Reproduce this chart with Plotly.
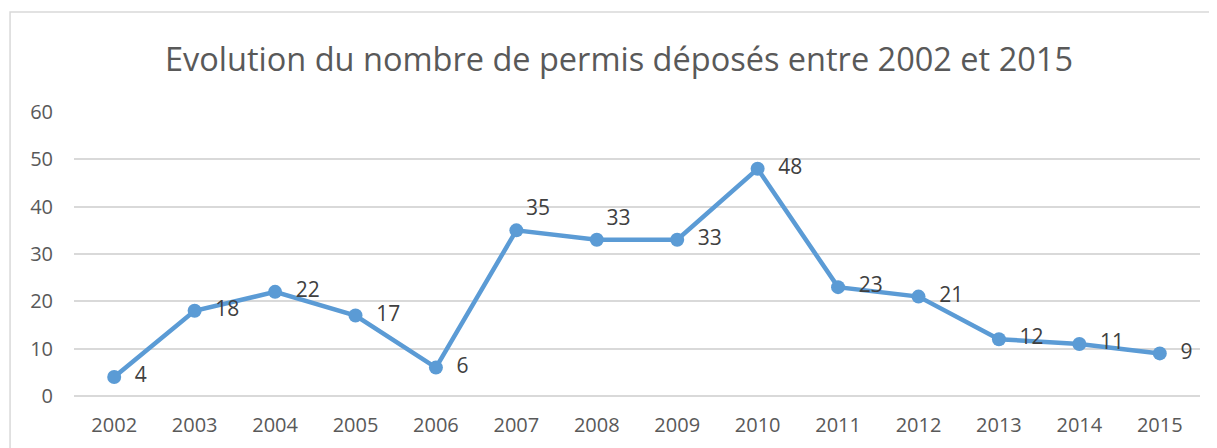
import plotly.graph_objects as go

years = ["2002", "2003", "2004", "2005", "2006", "2007", "2008", "2009",
         "2010", "2011", "2012", "2013", "2014", "2015"]
permis = [4, 18, 22, 17, 6, 35, 33, 33, 48, 23, 21, 12, 11, 9]
label_pos = ["middle right"] * 5 + ["top right", "top right"] + ["middle right"] * 7

font_family = "Open Sans, Lato, sans-serif"
pad = "\u00a0\u00a0"
labels = [(pad if p == "middle right" else "") + str(v) for v, p in zip(permis, label_pos)]

fig = go.Figure()
fig.add_trace(go.Scatter(
    x=years, y=permis,
    mode="lines+markers+text",
    line=dict(color="#5B9BD5", width=4.5),
    marker=dict(color="#5B9BD5", size=14),
    text=labels,
    textposition=label_pos,
    textfont=dict(family=font_family, size=21, color="#404040"),
    cliponaxis=False,
    hoverinfo="x+y",
))

W, H = 1209, 440  # page body has an 8px margin
fig.update_layout(
    width=W, height=H,
    margin=dict(l=66, r=17, t=104, b=52, autoexpand=False),
    paper_bgcolor="white", plot_bgcolor="white",
    showlegend=False,
    title=dict(
        text="Evolution du nombre de permis déposés entre 2002 et 2015",
        x=(619 - 8) / W, xref="container", xanchor="center",
        y=1 - 52 / H, yref="container", yanchor="middle",
        font=dict(family=font_family, size=32.5, color="#595959"),
    ),
    xaxis=dict(
        type="category", range=[-0.5, 13.5], automargin=False,
        showgrid=False, showline=False, zeroline=False, ticks="",
        tickfont=dict(family=font_family, size=20, color="#595959"),
        ticklabelstandoff=15,
    ),
    yaxis=dict(
        range=[0, 60], dtick=10, tick0=0, automargin=False,
        showgrid=True, gridcolor="#D9D9D9", gridwidth=1.5,
        zeroline=True, zerolinecolor="#D9D9D9", zerolinewidth=1.5,
        showline=False, ticks="",
        tickfont=dict(family=font_family, size=20, color="#595959"),
        ticklabelstandoff=20,
    ),
    shapes=[dict(
        type="path", xref="paper", yref="paper",
        path="M -0.0568 -0.3 L -0.0568 1.352 L 1.03 1.352",
        line=dict(color="#D9D9D9", width=1.5),
    )],
)

fig.write_html("out.html")
